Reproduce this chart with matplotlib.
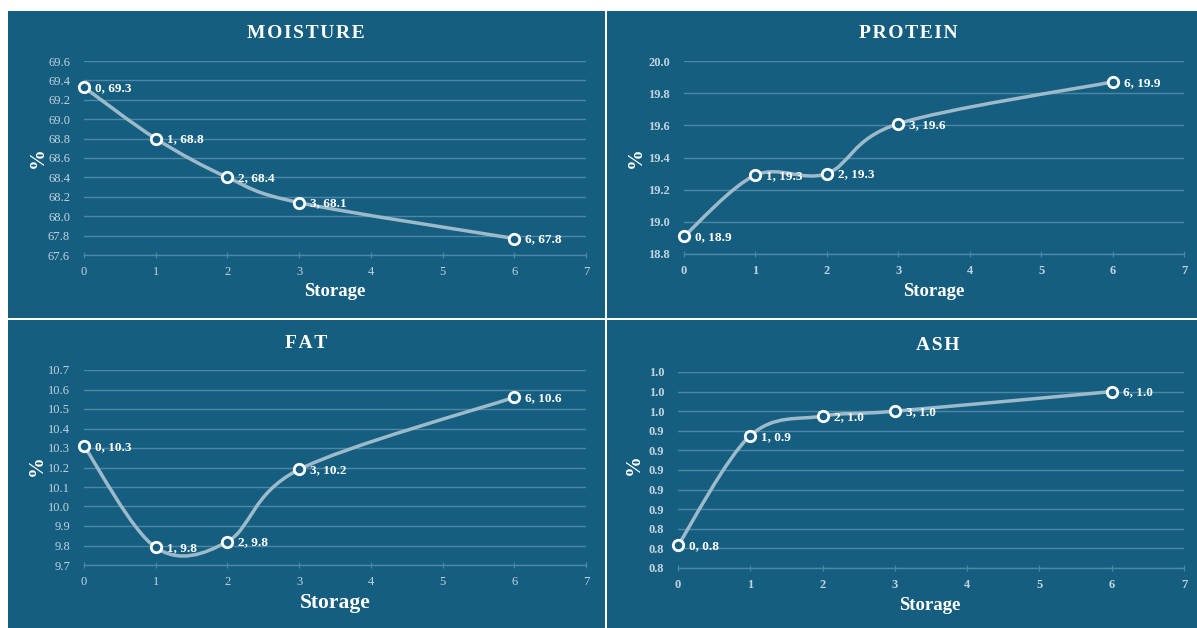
import matplotlib
matplotlib.use("Agg")
import matplotlib.pyplot as plt
from matplotlib.path import Path
from matplotlib.patches import PathPatch, Rectangle
from matplotlib.ticker import FixedLocator, FuncFormatter
import numpy as np

plt.rcParams['font.family'] = ['Liberation Serif', 'DejaVu Serif']

storage = [0, 1, 2, 3, 6]
moisture = [69.33, 68.80, 68.40, 68.14, 67.77]
protein = [18.91, 19.29, 19.30, 19.61, 19.87]
fat = [10.31, 9.79, 9.82, 10.19, 10.56]
ash = [0.823, 0.935, 0.955, 0.960, 0.980]

titles = ["MOISTURE", "PROTEIN", "FAT", "ASH"]
series = [moisture, protein, fat, ash]
yticks = [
    [67.6 + 0.2 * i for i in range(11)],
    [18.8 + 0.2 * i for i in range(7)],
    [9.7 + 0.1 * i for i in range(11)],
    [0.80 + 0.02 * i for i in range(11)],
]
xticks = [0, 1, 2, 3, 4, 5, 6, 7]

BG = "#165e80"
GRID = "#4d87a7"
LINE = "#9dbacb"
TICK = "#c2d3de"

W, H = 1197, 628
fig = plt.figure(figsize=(W / 100, H / 100), dpi=100)
fig.patch.set_facecolor("white")

# panel rectangles (pixels: x0, y0_top, x1, y1_bottom)
panels = [(8, 11, 605, 318), (607, 11, 1197, 318), (8, 320, 605, 628), (607, 320, 1197, 628)]
# axes plot areas (x_left, y_top, x_right, y_bottom)
areas = [(84, 61, 586, 255), (684, 61, 1184, 254), (84, 370, 586, 565), (678, 372, 1184, 568)]
title_pos = [(306, 33), (908, 33), (306, 343), (938, 346)]
xlabel_pos = [(335, 291), (934, 291), (335, 603), (930, 605)]
ylabel_pos = [(38, 158), (636, 158), (37, 466), (634, 465)]
bold_ticks = [False, True, False, True]
xlabel_size = [13.5, 13.5, 15.5, 13.5]


def fx(px):
    return px / W


def fy(py):
    return 1 - py / H


for p in panels:
    fig.patches.append(Rectangle((fx(p[0]), fy(p[3])), fx(p[2] - p[0]), (p[3] - p[1]) / H,
                                 transform=fig.transFigure, facecolor=BG, edgecolor="none", zorder=-5))


def smooth_path(xs, ys):
    pts = np.column_stack([xs, ys]).astype(float)
    n = len(pts)
    verts = [pts[0]]
    codes = [Path.MOVETO]
    for i in range(n - 1):
        p0 = pts[i - 1] if i > 0 else pts[i]
        p1 = pts[i]
        p2 = pts[i + 1]
        p3 = pts[i + 2] if i + 2 < n else pts[i + 1]
        c1 = p1 + (p2 - p0) / 6.0
        c2 = p2 - (p3 - p1) / 6.0
        verts += [c1, c2, p2]
        codes += [Path.CURVE4] * 3
    return Path(verts, codes)


for k in range(4):
    a = areas[k]
    ax = fig.add_axes([fx(a[0]), fy(a[3]), fx(a[2] - a[0]), (a[3] - a[1]) / H])
    ax.set_zorder(2)
    ax.set_facecolor("none")
    yt = yticks[k]
    ax.set_xlim(0, 7)
    ax.set_ylim(yt[0], yt[-1])
    ax.yaxis.set_major_locator(FixedLocator(yt))
    ax.xaxis.set_major_locator(FixedLocator(xticks))
    ax.yaxis.set_major_formatter(FuncFormatter(lambda v, pos: f"{v:.1f}"))
    ax.grid(axis="y", color=GRID, linewidth=1.0)
    ax.set_axisbelow(True)
    for s in ["top", "right", "left"]:
        ax.spines[s].set_visible(False)
    ax.spines["bottom"].set_color(GRID)
    ax.spines["bottom"].set_linewidth(1.0)
    fw = "bold" if bold_ticks[k] else "normal"
    ax.tick_params(axis="y", length=0, pad=10, labelcolor=TICK, labelsize=9)
    ax.tick_params(axis="x", length=4, color=GRID, direction="inout", pad=6, labelcolor=TICK, labelsize=9)
    for lab in ax.get_xticklabels() + ax.get_yticklabels():
        lab.set_fontweight(fw)

    ys = series[k]
    path = smooth_path(storage, ys)
    ax.add_patch(PathPatch(path, facecolor="none", edgecolor=LINE, linewidth=2.5, zorder=3,
                           clip_on=False, capstyle="round"))
    ax.plot(storage, ys, linestyle="none", marker="o", markersize=7.5, markerfacecolor=BG,
            markeredgecolor="white", markeredgewidth=2.0, zorder=4, clip_on=False)
    for xv, yv in zip(storage, ys):
        ax.annotate(f"{xv}, {yv:.1f}", (xv, yv), xytext=(11, -1), textcoords="offset pixels",
                    ha="left", va="center", color="white", fontsize=9.5, fontweight="bold", zorder=5)

    fig.text(fx(title_pos[k][0]), fy(title_pos[k][1]), "\u200a".join(titles[k]), ha="center", va="center",
             color="white", fontsize=14, fontweight="bold")
    fig.text(fx(xlabel_pos[k][0]), fy(xlabel_pos[k][1]), "Storage", ha="center", va="center",
             color="white", fontsize=xlabel_size[k], fontweight="bold")
    fig.text(fx(ylabel_pos[k][0]), fy(ylabel_pos[k][1]), "%", ha="center", va="center",
             color="white", fontsize=15, fontweight="bold", rotation=90)

fig.savefig("out.png", dpi=100, facecolor="white")
